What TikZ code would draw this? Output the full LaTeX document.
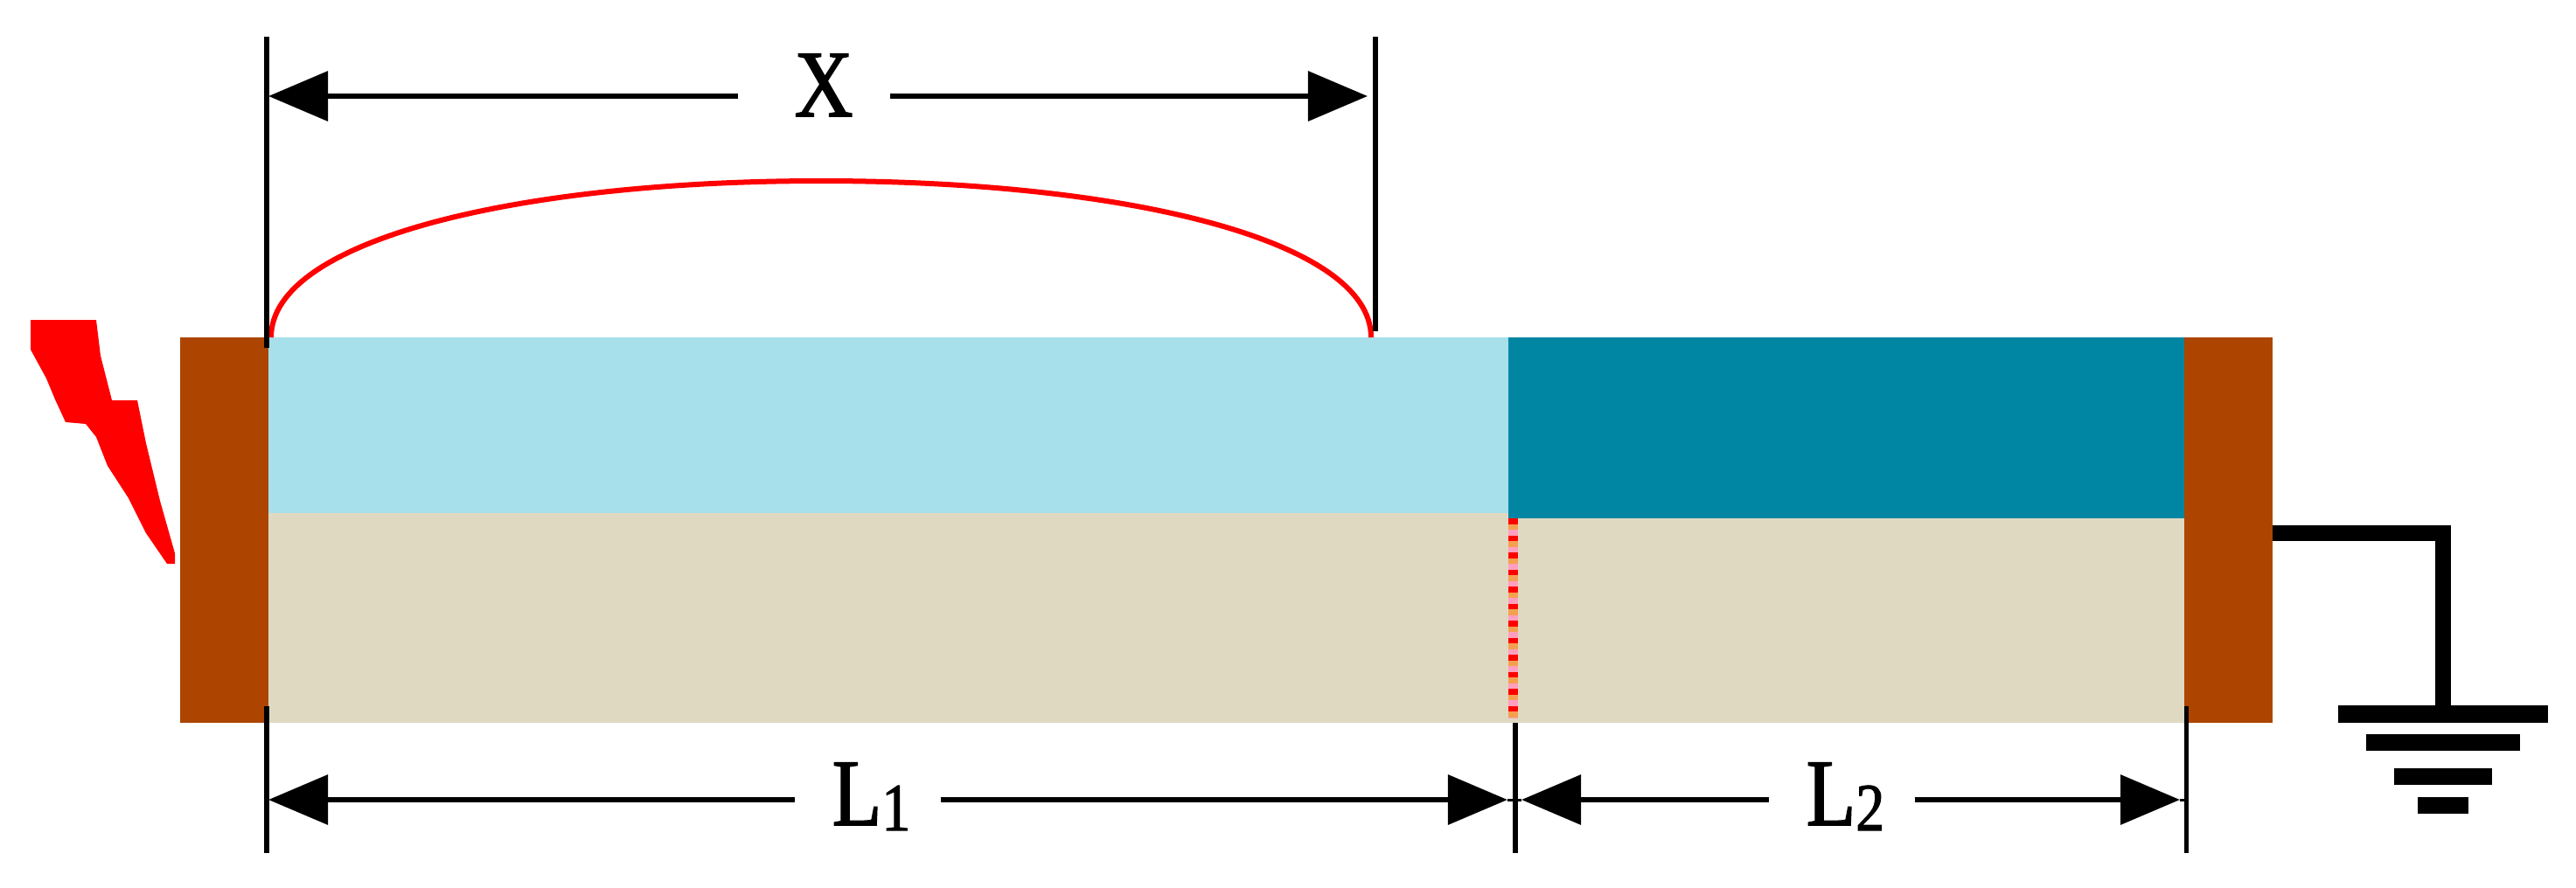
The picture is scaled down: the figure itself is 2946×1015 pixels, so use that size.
\documentclass[tikz,border=0pt]{standalone}
\usepackage{fontspec}
\usetikzlibrary{arrows.meta}
\newfontfamily\labfont[FakeStretch=.85,FakeBold=1.5]{Liberation Serif}
\newcommand{\subnum}[1]{{\fontsize{22pt}{22pt}\selectfont\raisebox{-.06cm}{#1}}}
\definecolor{capbrown}{HTML}{AD4500}
\definecolor{lightblue}{HTML}{A7DFEA}
\definecolor{darkteal}{HTML}{0086A3}
\definecolor{sandbeige}{HTML}{DFD9C2}
\definecolor{dotorange}{HTML}{F4A050}
\definecolor{dotpink}{HTML}{FF9FC0}
\begin{document}
\begin{tikzpicture}[x=0.01cm,y=-0.01cm,
	dimline/.style = {line width=.065cm, -{Triangle[length=.68cm,width=.56cm]}},
	tickline/.style = {line width=.052cm},
	lab/.style = {inner sep=0pt, text height=.58cm, text depth=0pt, font=\labfont\fontsize{31pt}{31pt}\selectfont},
	capbox/.style = {fill=capbrown, inner sep=0pt, minimum width=1.01cm, minimum height=4.41cm},
	gndbar/.style = {fill=black, inner sep=0pt, minimum height=.195cm}]
	\useasboundingbox (0,0) rectangle (2946,1015);
	\fill[sandbeige]	(307,587) rectangle (2498,827);
	\fill[lightblue]	(307,386) rectangle (1725,587);
	\fill[darkteal]		(1725,386) rectangle (2498,593);
	\node (capL) at ( 256.5, 606.5)	[capbox]	{};
	\node (capR) at (2548.5, 606.5)	[capbox]	{};

	\foreach \col/\ph in {red/0cm, dotorange/.13cm, dotpink/.065cm}
		\draw[\col, line width=.11cm, dash pattern=on .065cm off .13cm, dash phase=\ph] (1730.5,593) -- (1730.5,821);

	\fill[red] (35,366) -- (110,366) -- (115,407) -- (128,458) -- (157,458) -- (167,507) -- (183,573) -- (200,633) -- (200,645)
		-- (191,645) -- (167,610) -- (147,570) -- (123,533) -- (110,500) -- (98,485) -- (75,483) -- (63,457) -- (53,433) -- (35,400) -- cycle;

	\coordinate (arcL) at (310,386);
	\coordinate (arcT) at (939,207);
	\coordinate (arcR) at (1568,386);
	\draw[red, line width=.06cm] (arcL) .. controls (310,275) and (590,207) .. (arcT) .. controls (1288,207) and (1568,275) .. (arcR);

	\coordinate (tickA) at ( 305,  42);
	\coordinate (tickB) at ( 305, 398);
	\coordinate (tickC) at (1573,  42);
	\coordinate (tickD) at (1573, 379);
	\coordinate (tickE) at ( 305, 808);
	\coordinate (tickF) at ( 305, 976);
	\coordinate (tickG) at (1733, 827);
	\coordinate (tickH) at (1733, 976);
	\coordinate (tickI) at (2500.5, 808);
	\coordinate (tickJ) at (2500.5, 976);
	\draw[tickline] (tickA) -- (tickB);
	\draw[tickline] (tickC) -- (tickD);
	\draw[tickline] (tickE) -- (tickF);
	\draw[tickline] (tickG) -- (tickH);
	\draw[tickline] (tickI) -- (tickJ);

	\node (X) at ( 931, 110)	[lab, text height=.46cm, minimum width=1.72cm]	{\hspace*{.22cm}X};
	\node (L1) at ( 992.5, 915)	[lab, minimum width=1.65cm]	{\hspace*{.08cm}L\subnum{1}};
	\node (L2) at (2106.5, 915)	[lab, minimum width=1.65cm]	{\hspace*{.08cm}L\subnum{2}};
	\coordinate (tipXa) at ( 307, 110);
	\coordinate (tipXb) at (1564, 110);
	\coordinate (tipLa) at ( 307, 915);
	\coordinate (tipLb) at (1724, 915);
	\coordinate (tipLc) at (1740, 915);
	\coordinate (tipLd) at (2493, 915);
	\draw[dimline] (X) -- (tipXa);
	\draw[dimline] (X) -- (tipXb);
	\draw[dimline] (L1) -- (tipLa);
	\draw[dimline] (L1) -- (tipLb);
	\draw[dimline] (L2) -- (tipLc);
	\draw[dimline] (L2) -- (tipLd);
	\draw[line width=.03cm] (tipLb) -- (tipLc);
	\draw[line width=.03cm] (tipLd) -- (2500.5,915);

	\node (G1) at (2794, 817)	[gndbar, minimum width=2.40cm]	{};
	\node (G2) at (2794, 849.5)	[gndbar, minimum width=1.76cm]	{};
	\node (G3) at (2794, 888.5)	[gndbar, minimum width=1.12cm]	{};
	\node (G4) at (2794, 921.5)	[gndbar, minimum width=.58cm]	{};
	\coordinate (wire) at (2599,610);
	\draw[line width=.175cm] (wire) -| (G1.north);
\end{tikzpicture}
\end{document}
